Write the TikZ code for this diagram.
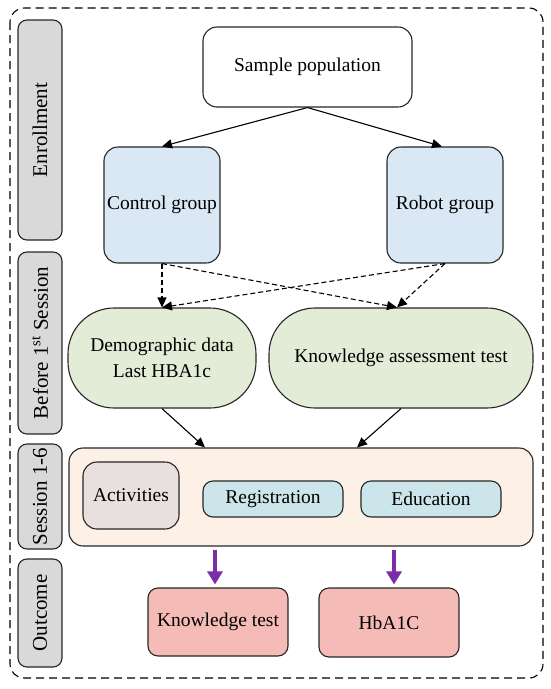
\documentclass[tikz,border=0pt]{standalone}
\usepackage{fontspec}
\setmainfont{Liberation Serif}
\usetikzlibrary{arrows.meta,calc}
\definecolor{sidegray}{HTML}{D9D9D9}
\definecolor{grpblue}{HTML}{DAE8F5}
\definecolor{ovgreen}{HTML}{E2ECD6}
\definecolor{sesspeach}{HTML}{FDF0E7}
\definecolor{actgray}{HTML}{E8E0DE}
\definecolor{regblue}{HTML}{CCE5EA}
\definecolor{outpink}{HTML}{F5BBB7}
\definecolor{arrpurple}{HTML}{7B2CA8}
\tikzset{
  base/.style={draw=black!85, line width=1.1pt, align=center, inner sep=0pt,
    font=\fontsize{19.5}{26}\selectfont},
  sidebox/.style={base, fill=sidegray, rounded corners=9pt, minimum height=44pt, rotate=90,
    font=\fontsize{21}{26}\selectfont},
  rbox/.style={base, rounded corners=14pt},
  conn/.style={line width=1.1pt, -{Triangle[length=10pt,width=9pt]}},
  dconn/.style={line width=1.1pt, dash pattern=on 5pt off 3pt, -{Triangle[length=10pt,width=9pt]}},
  parrow/.style={draw=arrpurple, line width=4pt, -{Triangle[length=13pt,width=15pt]}}
}
\begin{document}
\begin{tikzpicture}[x=1pt,y=-1pt]
\useasboundingbox (0,0) rectangle (550,689);
\draw[line width=1.1pt, dash pattern=on 8pt off 5pt, rounded corners=14pt] (10,8) rectangle (543,678);
% side labels
\node[sidebox, minimum width=220pt] (senr) at (40,130) {Enrollment};
\node[sidebox, minimum width=182pt] (sbef) at (40,343) {Before 1\textsuperscript{st} Session};
\node[sidebox, minimum width=105pt] (sses) at (40,496.5) {Session 1-6};
\node[sidebox, minimum width=108pt] (sout) at (40,613) {Outcome};
% main nodes
\node[rbox, fill=white, minimum width=209pt, minimum height=80pt] (sample) at (307.5,67) {Sample population};
\node[rbox, fill=grpblue, minimum width=116pt, minimum height=116pt] (ctrl) at (162,205) {Control group};
\node[rbox, fill=grpblue, minimum width=116pt, minimum height=116pt] (robot) at (445,205) {Robot group};
\node[base, fill=ovgreen, rounded corners=46pt, minimum width=188pt, minimum height=100pt] (demo) at (162,358) {Demographic data\\Last HBA1c};
\node[base, fill=ovgreen, rounded corners=46pt, minimum width=264pt, minimum height=100pt] (know) at (401,358) {Knowledge assessment test};
\node[rbox, fill=sesspeach, minimum width=464pt, minimum height=98pt] (session) at (301,497) {};
\node[rbox, fill=actgray, minimum width=96pt, minimum height=67pt] (act) at (131,495.5) {Activities};
\node[base, fill=regblue, rounded corners=10pt, minimum width=140pt, minimum height=36pt] (reg) at (273,499) {Registration};
\node[base, fill=regblue, rounded corners=10pt, minimum width=140pt, minimum height=36pt] (edu) at (431,499) {Education};
\node[base, fill=outpink, rounded corners=10pt, minimum width=140pt, minimum height=68pt] (kt) at (218,622) {Knowledge test};
\node[base, fill=outpink, rounded corners=10pt, minimum width=140pt, minimum height=69pt] (hb) at (389,622.5) {HbA1C};
% connectors
\draw[conn] (sample.south) -- (ctrl.north);
\draw[conn] (sample.south) -- ($(robot.north)+(-3,0)$);
\draw[dconn] (ctrl.south) -- (demo.north);
\draw[dconn] (ctrl.south) -- ($(know.north)+(-4,0)$);
\draw[dconn] (robot.south) -- (demo.north);
\draw[dconn] (robot.south) -- ($(know.north)+(-4,0)$);
\draw[conn] (demo.south) -- ($(session.north)+(-96,0)$);
\draw[conn] (know.south) -- ($(session.north)+(56,0)$);
\coordinate (p1s) at ($(session.south)+(-86,3)$);
\coordinate (p1e) at ($(kt.north)+(-3,-3)$);
\coordinate (p2s) at ($(session.south)+(93,3)$);
\coordinate (p2e) at ($(hb.north)+(5,-3)$);
\draw[parrow] (p1s) -- (p1e);
\draw[parrow] (p2s) -- (p2e);
\end{tikzpicture}
\end{document}
